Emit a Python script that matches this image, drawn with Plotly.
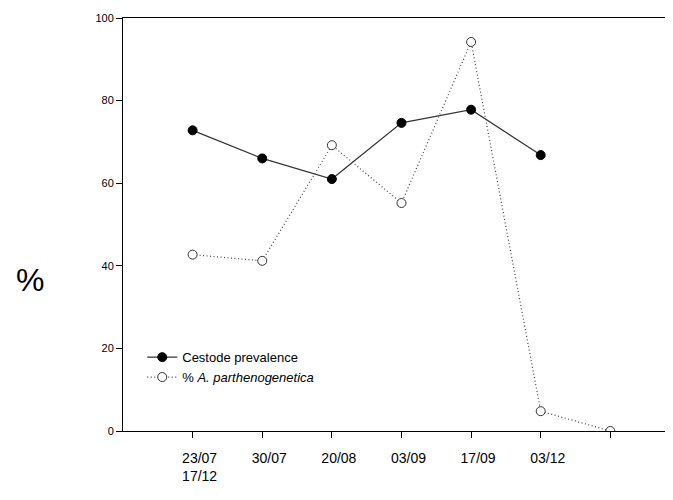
import plotly.graph_objects as go

dates = ["23/07<br>17/12", "30/07", "20/08", "03/09", "17/09", "03/12"]
positions = [1, 2, 3, 4, 5, 6, 7]
cestode = [72.8, 66.0, 61.0, 74.6, 77.8, 66.8]
apart = [42.7, 41.2, 69.2, 55.2, 94.2, 4.8, 0.0]
yticks = [0, 20, 40, 60, 80, 100]

FONT = "Arial, Liberation Sans, sans-serif"

fig = go.Figure()
fig.add_trace(go.Scatter(
    x=positions[:len(cestode)], y=cestode, mode="lines+markers",
    name="Cestode prevalence",
    line=dict(color="#333333", width=1.2),
    marker=dict(symbol="circle", size=9, color="black", line=dict(color="black", width=1)),
))
fig.add_trace(go.Scatter(
    x=positions, y=apart, mode="lines+markers",
    name="% <i>A. parthenogenetica</i>",
    line=dict(color="#444444", width=1.2, dash="1px,2.5px"),
    marker=dict(symbol="circle", size=9, color="white", line=dict(color="#333333", width=1)),
))

fig.update_layout(
    width=665, height=484,
    margin=dict(l=115, r=0, t=10, b=61),
    paper_bgcolor="white", plot_bgcolor="white",
    font=dict(family=FONT, color="black"),
    showlegend=True,
    legend=dict(
        x=0.035, y=0.215, xanchor="left", yanchor="top",
        bgcolor="rgba(0,0,0,0)", font=dict(size=13, family=FONT),
        tracegroupgap=0, itemwidth=30,
    ),
    xaxis=dict(
        range=[0, 7.9], showgrid=False, zeroline=False,
        showline=True, linecolor="black", linewidth=1, mirror=True,
        ticks="outside", ticklen=6, tickcolor="black",
        tickvals=positions[:len(dates)] + [7], ticktext=dates + [""],
        tickfont=dict(size=14, family=FONT),
        ticklabelshift=7, ticklabelstandoff=8,
    ),
    yaxis=dict(
        range=[0, 100], showgrid=False, zeroline=False,
        showline=True, linecolor="black", linewidth=1,
        ticks="outside", ticklen=6, tickcolor="black",
        tickvals=yticks, tickfont=dict(size=11, family=FONT),
    ),
    annotations=[dict(
        text="%", xref="paper", yref="paper", x=-0.169, y=0.366,
        xanchor="center", yanchor="middle",
        showarrow=False, font=dict(size=32, family=FONT),
    )],
)

fig.write_html("out.html")
